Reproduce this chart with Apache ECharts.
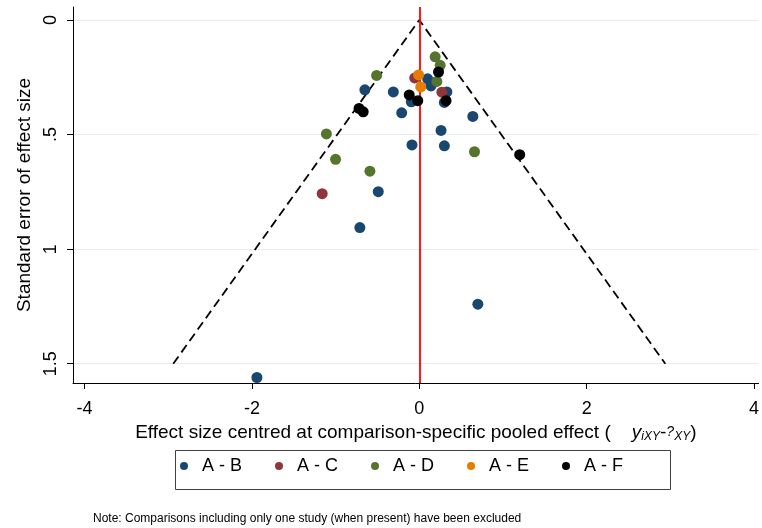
<!DOCTYPE html>
<html>
<head>
<meta charset="utf-8">
<script src="https://cdn.jsdelivr.net/npm/echarts@6/dist/echarts.min.js"></script>
<style>
  html, body { margin: 0; padding: 0; background: #ffffff; }
  #chart { width: 762px; height: 528px; }
</style>
</head>
<body>
<div id="chart"></div>
<script>
// Comparison-adjusted funnel plot: centred effect size (x) vs standard error (y)
const groupNames = ['A - B', 'A - C', 'A - D', 'A - E', 'A - F'];
const groupColors = ['#1a476f', '#90353b', '#55752f', '#e37e00', '#000000'];

// [centred effect size, standard error]
const pointsAB = [
  [-1.94, 1.56], [0.70, 1.24], [-0.71, 0.906], [-0.49, 0.749],
  [-0.087, 0.545], [0.30, 0.549], [0.26, 0.482], [0.64, 0.421],
  [-0.21, 0.405], [-0.65, 0.305], [-0.31, 0.314], [-0.095, 0.357],
  [0.10, 0.257], [0.14, 0.288], [0.33, 0.314], [0.30, 0.36]
];
const pointsAC = [[-1.16, 0.758], [-0.054, 0.253], [0.27, 0.315]];
const pointsAD = [
  [0.19, 0.161], [0.25, 0.198], [0.21, 0.268], [-0.51, 0.242],
  [-1.11, 0.497], [-1.00, 0.608], [-0.59, 0.66], [0.66, 0.575]
];
const pointsAE = [[-0.008, 0.240], [0.018, 0.292]];
const pointsAF = [
  [0.23, 0.227], [-0.12, 0.327], [-0.018, 0.352], [0.32, 0.352],
  [-0.72, 0.386], [-0.67, 0.401], [1.20, 0.588]
];
const groupPoints = [pointsAB, pointsAC, pointsAD, pointsAE, pointsAF];

// Pseudo 95% confidence limits of the funnel
const funnelX = [-2.94, 0, 2.94];
const funnelY = [1.5, 0, 1.5];

const xTicks = [-4, -2, 0, 2, 4];
const yTicks = [0, 0.5, 1, 1.5];
const yTickLabels = ['0', '.5', '1', '1.5'];

const xMin = -4.138, xMax = 4.055;
const yMin = -0.0566, yMax = 1.584;

const FONT = '"Liberation Sans", Arial, Helvetica, sans-serif';

const chart = echarts.init(document.getElementById('chart'), null, { renderer: 'canvas' });

const series = [];
series.push({
  type: 'line',
  name: 'funnel',
  data: funnelX.map((x, i) => [x, funnelY[i]]),
  symbol: 'none',
  silent: true,
  lineStyle: { color: '#000', width: 1.8, type: [9, 5] },
  z: 2,
  markLine: {
    silent: true,
    symbol: 'none',
    label: { show: false },
    lineStyle: { color: '#ff0000', width: 1.8, type: 'solid' },
    data: [{ xAxis: 0 }]
  }
});
groupNames.forEach((name, i) => {
  series.push({
    type: 'scatter',
    name: name,
    data: groupPoints[i],
    symbol: 'circle',
    symbolSize: 11,
    itemStyle: { color: groupColors[i], opacity: 1 },
    z: 3 + i
  });
});

const option = {
  backgroundColor: '#ffffff',
  animation: false,
  textStyle: { fontFamily: FONT },
  grid: { left: 73, top: 7, right: 2, bottom: 145, containLabel: false },
  xAxis: {
    type: 'value',
    min: xMin,
    max: xMax,
    axisLine: { show: true, onZero: false, lineStyle: { color: '#000', width: 1 } },
    axisTick: { show: true, customValues: xTicks, length: 6, lineStyle: { color: '#000' } },
    axisLabel: {
      customValues: xTicks,
      color: '#000', fontSize: 18, fontFamily: FONT, margin: 17,
      formatter: v => String(v)
    },
    splitLine: { show: false },
    name: 'Effect size centred at comparison-specific pooled effect (    {it|y}{sub|iXY}{n|-}{q|?}{sub|XY}{n|)}',
    nameLocation: 'middle',
    nameGap: 34,
    nameTextStyle: {
      color: '#000', fontSize: 19, fontFamily: FONT,
      rich: {
        it: { fontSize: 19, fontStyle: 'italic', fontFamily: FONT, color: '#000' },
        sub: { fontSize: 12, fontStyle: 'italic', fontFamily: FONT, color: '#000', padding: [8, 0, 0, 0] },
        q: { fontSize: 14, fontStyle: 'italic', fontFamily: FONT, color: '#000' },
        n: { fontSize: 19, fontFamily: FONT, color: '#000' }
      }
    }
  },
  yAxis: {
    type: 'value',
    inverse: true,
    min: yMin,
    max: yMax,
    axisLine: { show: true, onZero: false, lineStyle: { color: '#000', width: 1 } },
    axisTick: { show: true, customValues: yTicks, length: 6, lineStyle: { color: '#000' } },
    axisLabel: {
      customValues: yTicks,
      rotate: 90,
      color: '#000', fontSize: 18, fontFamily: FONT, margin: 13,
      formatter: v => yTickLabels[yTicks.indexOf(v)] ?? String(v)
    },
    splitLine: { show: true, lineStyle: { color: '#e4ecee', width: 1.2 } },
    name: 'Standard error of effect size',
    nameLocation: 'middle',
    nameGap: 28,
    nameRotate: 90,
    nameTextStyle: { color: '#000', fontSize: 19, fontFamily: FONT }
  },
  legend: {
    data: groupNames.map(n => ({ name: n, icon: 'circle' })),
    left: 180,
    top: 457,
    orient: 'horizontal',
    itemWidth: 26,
    itemHeight: 8,
    itemGap: 33,
    padding: 0,
    selectedMode: false,
    textStyle: { color: '#000', fontSize: 18, fontFamily: FONT, padding: [0, 0, 0, 0] }
  },
  graphic: [
    {
      type: 'rect',
      left: 173, top: 448,
      shape: { width: 495, height: 39 },
      style: { fill: 'none', stroke: '#404040', lineWidth: 1 },
      silent: true
    },
    {
      type: 'text',
      left: 93, top: 513,
      style: {
        text: 'Note: Comparisons including only one study (when present) have been excluded',
        fill: '#000', fontSize: 12, fontFamily: FONT
      },
      silent: true
    }
  ],
  series: series
};

chart.setOption(option);
</script>
</body>
</html>
